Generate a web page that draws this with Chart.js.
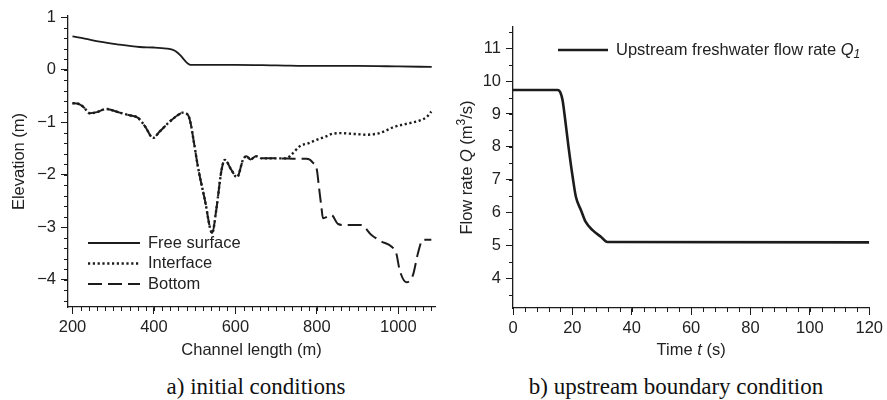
<!DOCTYPE html>
<html>
<head>
<meta charset="utf-8">
<script src="https://cdn.jsdelivr.net/npm/chart.js@4.4.1/dist/chart.umd.min.js"></script>
<style>
    body { margin: 0; background: #fff; width: 887px; height: 400px; overflow: hidden; position: relative; }
    .panel { position: absolute; top: 0; height: 365px; }
    #leftPanel { left: 0; width: 445px; }
    #rightPanel { left: 445px; width: 442px; }
    .caption {
        position: absolute; top: 374px; text-align: center; color: #111;
        font-family: 'Liberation Serif', 'Times New Roman', serif; font-size: 23px;
    }
</style>
</head>
<body>
<div class="panel" id="leftPanel"><canvas id="elevChart"></canvas></div>
<div class="panel" id="rightPanel"><canvas id="flowChart"></canvas></div>
<div class="caption" style="left: 0; width: 512px;">a) initial conditions</div>
<div class="caption" style="left: 440px; width: 472px;">b) upstream boundary condition</div>
<script>
/* a) channel profile at t = 0, x in metres, elevation in metres */
const surfaceX = [200, 230, 267, 310, 365, 400, 431, 445, 455, 465, 476, 484, 490, 500, 550, 600, 700, 800, 900, 1000, 1082];
const surfaceY = [0.63, 0.59, 0.53, 0.48, 0.43, 0.42, 0.40, 0.38, 0.34, 0.27, 0.17, 0.11, 0.09, 0.09, 0.09, 0.09, 0.08, 0.07, 0.07, 0.06, 0.05];

const bottomX = [200, 214, 228, 242, 260, 283, 300, 316, 340, 361, 378, 398, 414, 439, 460, 471, 484, 490, 498, 508, 525, 543, 553, 566, 574, 590, 604, 619, 627, 637, 651, 664, 700,
                 758, 775, 790, 800, 805, 811, 815, 836, 852, 870, 909, 934, 958, 983, 995, 1003, 1020, 1036, 1048, 1060, 1081];
const bottomY = [-0.64, -0.65, -0.72, -0.83, -0.81, -0.75, -0.78, -0.82, -0.87, -0.92, -1.08, -1.30, -1.18, -0.99, -0.86, -0.82, -0.87, -1.02, -1.38, -1.85, -2.48, -3.11, -2.67, -1.91, -1.72, -1.91, -2.05, -1.71, -1.65, -1.71, -1.65, -1.69, -1.69,
                 -1.70, -1.70, -1.77, -1.91, -2.23, -2.61, -2.83, -2.77, -2.94, -2.96, -2.96, -3.15, -3.27, -3.37, -3.50, -3.81, -4.05, -3.91, -3.50, -3.24, -3.24];

// the interface lies on the bed up to 700 m, then rises above it
const sharedBed = 33;
const interfaceX = bottomX.slice(0, sharedBed).concat([725, 740, 758, 780, 799, 820, 840, 860, 880, 900, 921, 940, 954, 970, 987, 1010, 1028, 1052, 1070, 1081]);
const interfaceY = bottomY.slice(0, sharedBed).concat([-1.69, -1.60, -1.46, -1.40, -1.34, -1.28, -1.22, -1.21, -1.22, -1.23, -1.24, -1.23, -1.21, -1.16, -1.10, -1.05, -1.02, -0.97, -0.90, -0.80]);

const lengthTicks = [200, 400, 600, 800, 1000];
const elevTicks = [-4, -3, -2, -1, 0, 1];

/* b) upstream inflow hydrograph */
const flowT = [0, 15, 16, 16.7, 17.6, 18.7, 20.1, 21.2, 22.9, 24.5, 26.8, 29.6, 31.8, 120];
const flowQ = [9.73, 9.73, 9.65, 9.42, 8.81, 8.00, 7.08, 6.47, 6.07, 5.71, 5.46, 5.26, 5.10, 5.09];

const timeTicks = [0, 20, 40, 60, 80, 100, 120];
const flowTicks = [4, 5, 6, 7, 8, 9, 10, 11];

const INK = '#1c1c1c';
const SANS = "'Liberation Sans', Arial, Helvetica, sans-serif";
const TEXT_SIZE = 16.5;
Chart.defaults.font.family = SANS;
Chart.defaults.font.size = TEXT_SIZE;
Chart.defaults.color = '#222';

function pairs(xs, ys) {
    return xs.map(function(x, i) { return { x: x, y: ys[i] }; });
}
function steps(from, to, step) {
    var out = [];
    for (var v = from; v <= to + 1e-9; v += step) out.push(Math.round(v * 1000) / 1000);
    return out;
}
function minus(v) {
    return String(v).replace('-', '\u2212');
}

// text with italic / raised / lowered pieces
function partFont(p, size) {
    var s = (p.sup || p.sub) ? Math.round(size * 0.7) : size;
    return (p.i ? 'italic ' : '') + s + 'px ' + SANS;
}
function richWidth(ctx, parts, size) {
    var w = 0;
    parts.forEach(function(p) {
        ctx.font = partFont(p, size);
        w += ctx.measureText(p.t).width;
    });
    return w;
}
function drawRich(ctx, parts, x, y, size, align) {
    var cx = align === 'left' ? x : x - richWidth(ctx, parts, size) / 2;
    ctx.textAlign = 'left';
    ctx.textBaseline = 'middle';
    parts.forEach(function(p) {
        ctx.font = partFont(p, size);
        var dy = p.sup ? -size * 0.32 : (p.sub ? size * 0.3 : 0);
        ctx.fillText(p.t, cx, y + dy);
        cx += ctx.measureText(p.t).width;
    });
}

// minor ticks, axis titles and the legend inside the plot
const panelDecor = {
    id: 'panelDecor',
    afterDraw: function(chart, args, opts) {
        const ctx = chart.ctx;
        const area = chart.chartArea;
        const xs = chart.scales.x, ys = chart.scales.y;
        ctx.save();
        ctx.strokeStyle = INK;
        ctx.lineWidth = 1;
        opts.minorX.forEach(function(v) {
            var px = Math.round(xs.getPixelForValue(v)) + 0.5;
            ctx.beginPath();
            ctx.moveTo(px, area.bottom);
            ctx.lineTo(px, area.bottom + 4);
            ctx.stroke();
        });
        opts.minorY.forEach(function(v) {
            var py = Math.round(ys.getPixelForValue(v)) + 0.5;
            ctx.beginPath();
            ctx.moveTo(area.left, py);
            ctx.lineTo(area.left - 4, py);
            ctx.stroke();
        });

        ctx.fillStyle = '#222';
        drawRich(ctx, opts.xTitle, (area.left + area.right) / 2, opts.xTitleY, TEXT_SIZE);
        ctx.save();
        ctx.translate(opts.yTitleX, (area.top + area.bottom) / 2);
        ctx.rotate(-Math.PI / 2);
        drawRich(ctx, opts.yTitle, 0, 0, TEXT_SIZE);
        ctx.restore();

        const lg = opts.legend;
        chart.data.datasets.forEach(function(ds, i) {
            var y = lg.y + i * lg.rowGap;
            ctx.save();
            ctx.strokeStyle = ds.borderColor;
            ctx.lineWidth = ds.borderWidth;
            ctx.setLineDash(ds.borderDash || []);
            ctx.beginPath();
            ctx.moveTo(lg.x, y);
            ctx.lineTo(lg.x + lg.lineLen, y);
            ctx.stroke();
            ctx.restore();
            drawRich(ctx, lg.labels[i], lg.x + lg.lineLen + lg.textGap, y, TEXT_SIZE, 'left');
        });
        ctx.restore();
    }
};

function axisX(min, max, ticks, height) {
    return {
        type: 'linear', min: min, max: max,
        afterBuildTicks: function(s) { s.ticks = ticks.map(function(v) { return { value: v }; }); },
        afterFit: function(s) { s.height = height; },
        ticks: { padding: 4, maxRotation: 0, callback: minus },
        grid: { drawOnChartArea: false, drawTicks: true, tickLength: 7, color: INK, lineWidth: 1 },
        border: { display: true, color: INK, width: 1.3 }
    };
}
function axisY(min, max, ticks, width) {
    return {
        type: 'linear', min: min, max: max,
        afterBuildTicks: function(s) { s.ticks = ticks.map(function(v) { return { value: v }; }); },
        afterFit: function(s) { s.width = width; },
        ticks: { padding: 5, callback: minus },
        grid: { drawOnChartArea: false, drawTicks: true, tickLength: 7, color: INK, lineWidth: 1 },
        border: { display: true, color: INK, width: 1.3 }
    };
}

const lineBase = { pointRadius: 0, fill: false, cubicInterpolationMode: 'monotone', borderColor: INK, borderCapStyle: 'butt' };

new Chart(document.getElementById('elevChart'), {
    type: 'line',
    data: {
        datasets: [
            Object.assign({ label: 'Free surface', data: pairs(surfaceX, surfaceY), borderWidth: 1.8 }, lineBase),
            Object.assign({ label: 'Interface', data: pairs(interfaceX, interfaceY), borderWidth: 2.4, borderDash: [2.2, 2.6] }, lineBase),
            Object.assign({ label: 'Bottom', data: pairs(bottomX, bottomY), borderWidth: 2, borderDash: [14, 6] }, lineBase)
        ]
    },
    options: {
        responsive: true, maintainAspectRatio: false, animation: false,
        layout: { padding: { top: 16, right: 10, left: 0, bottom: 0 } },
        scales: {
            x: axisX(189, 1090, lengthTicks, 58),
            y: axisY(-4.52, 1.02, elevTicks, 68)
        },
        plugins: {
            legend: { display: false },
            tooltip: { enabled: false },
            panelDecor: {
                minorX: steps(200, 1080, 20),
                minorY: steps(-4.4, 1, 0.2),
                xTitle: [{ t: 'Channel length (m)' }],
                xTitleY: 350,
                yTitle: [{ t: 'Elevation (m)' }],
                yTitleX: 19,
                legend: {
                    x: 88, y: 243, rowGap: 20.5, lineLen: 52, textGap: 8,
                    labels: [[{ t: 'Free surface' }], [{ t: 'Interface' }], [{ t: 'Bottom' }]]
                }
            }
        }
    },
    plugins: [panelDecor]
});

new Chart(document.getElementById('flowChart'), {
    type: 'line',
    data: {
        datasets: [
            Object.assign({ label: 'Upstream freshwater flow rate Q1', data: pairs(flowT, flowQ), borderWidth: 2.6 }, lineBase)
        ]
    },
    options: {
        responsive: true, maintainAspectRatio: false, animation: false,
        layout: { padding: { top: 27, right: 15, left: 0, bottom: 0 } },
        scales: {
            x: axisX(0, 120, timeTicks, 57),
            y: axisY(3.09, 11.65, flowTicks, 68)
        },
        plugins: {
            legend: { display: false },
            tooltip: { enabled: false },
            panelDecor: {
                minorX: steps(0, 120, 4),
                minorY: steps(3.5, 11.5, 0.5),
                xTitle: [{ t: 'Time ' }, { t: 't', i: true }, { t: ' (s)' }],
                xTitleY: 350,
                yTitle: [{ t: 'Flow rate ' }, { t: 'Q', i: true }, { t: ' (m' }, { t: '3', sup: true }, { t: '/s)' }],
                yTitleX: 22,
                legend: {
                    x: 113, y: 50, rowGap: 20, lineLen: 50, textGap: 8,
                    labels: [[{ t: 'Upstream freshwater flow rate ' }, { t: 'Q', i: true }, { t: '1', i: true, sub: true }]]
                }
            }
        }
    },
    plugins: [panelDecor]
});
</script>
</body>
</html>
